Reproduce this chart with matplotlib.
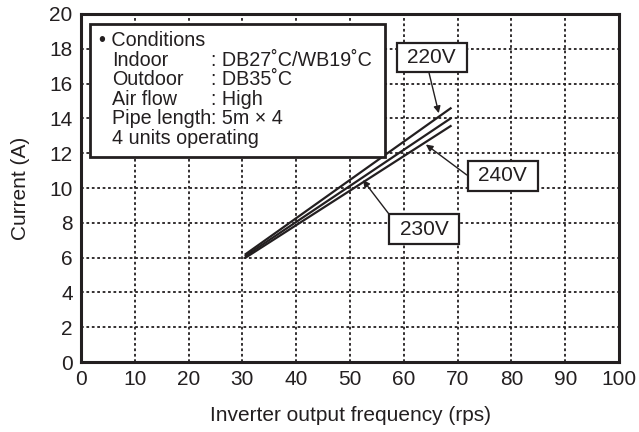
import matplotlib as mpl
import matplotlib.pyplot as plt
from matplotlib.patches import Rectangle

mpl.use('Agg')
plt.rcParams['font.family'] = ['Liberation Sans', 'DejaVu Sans']

cor = '#231f20'

# frequency (rps) vs current (A), straight lines from start to end point
freq_220 = [30.6, 68.7]
corr_220 = [6.2, 14.58]
freq_230 = [30.6, 68.7]
corr_230 = [6.1, 14.0]
freq_240 = [30.6, 68.7]
corr_240 = [6.0, 13.56]

rotulos = ['220V', '230V', '240V']
# label centre, arrow start, arrow tip (data units)
pos_rotulo = [(65.2, 17.5), (63.8, 7.64), (78.4, 10.7)]
seta_ini = [(64.7, 16.6), (57.1, 8.56), (71.7, 10.75)]
seta_fim = [(66.5, 14.3), (52.4, 10.46), (64.1, 12.5)]

cond_nomes = ['Indoor', 'Outdoor', 'Air flow', 'Pipe length']
cond_valores = [': DB27˚C/WB19˚C', ': DB35˚C', ': High', ': 5m × 4']

fig = plt.figure(figsize=(6.39, 4.32), dpi=100)
ax = fig.add_axes([0.1268, 0.162, 0.8419, 0.8056])

ax.plot(freq_220, corr_220, color=cor, lw=1.6, zorder=4)
ax.plot(freq_230, corr_230, color=cor, lw=1.6, zorder=4)
ax.plot(freq_240, corr_240, color=cor, lw=1.6, zorder=4)

ax.set_xlim(0, 100)
ax.set_ylim(0, 20)
ax.set_xticks(range(0, 101, 10))
ax.set_yticks(range(0, 21, 2))
ax.grid(True, color=cor, linestyle=(0, (1.5, 1.5)), lw=1.3)
ax.tick_params(length=0, labelsize=15, pad=6, colors=cor)
for s in ax.spines.values():
    s.set_linewidth(2.2)
    s.set_color(cor)

ax.set_xlabel('Inverter output frequency (rps)', fontsize=15, labelpad=12, color=cor)
ax.set_ylabel('Current (A)', fontsize=15, labelpad=14, color=cor)

# conditions box
ax.add_patch(Rectangle((1.7, 11.8), 54.8, 7.6, facecolor='white',
                       edgecolor=cor, lw=2, zorder=5))
y0 = 18.45
dy = 1.12
fs = 14.2
ax.text(3.3, y0, '• Conditions', fontsize=fs, va='center', color=cor, zorder=6)
for i, (n, v) in enumerate(zip(cond_nomes, cond_valores)):
    ax.text(5.7, y0 - (i + 1) * dy, n, fontsize=fs, va='center', color=cor, zorder=6)
    ax.text(24.2, y0 - (i + 1) * dy, v, fontsize=fs, va='center', color=cor, zorder=6)
ax.text(5.7, y0 - 5 * dy, '4 units operating', fontsize=fs, va='center', color=cor, zorder=6)

for r, p, a, b in zip(rotulos, pos_rotulo, seta_ini, seta_fim):
    ax.add_patch(Rectangle((p[0] - 6.5, p[1] - 0.86), 13, 1.72, facecolor='white',
                           edgecolor=cor, lw=1.6, zorder=7))
    ax.text(p[0], p[1], r, fontsize=15, ha='center', va='center', color=cor, zorder=8)
    ax.annotate('', xy=b, xytext=a, zorder=7,
                arrowprops=dict(arrowstyle='-|>', color=cor, lw=1,
                                mutation_scale=10, shrinkA=0, shrinkB=0))

plt.savefig('out.png', dpi=100)
